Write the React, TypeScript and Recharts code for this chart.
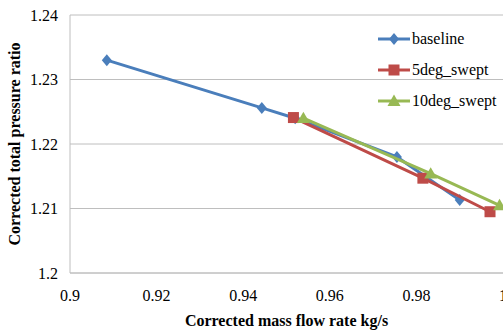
import React from 'react';
import {
    ScatterChart,
    Scatter,
    XAxis,
    YAxis,
    CartesianGrid,
    Legend
} from 'recharts';

// values
const BASELINE_X = [0.9085, 0.9443, 0.9520, 0.9755, 0.9900];
const BASELINE_Y = [1.2330, 1.2256, 1.2240, 1.2180, 1.2113];

const SWEPT5_X = [0.9516, 0.9815, 0.9970];
const SWEPT5_Y = [1.2241, 1.2147, 1.2095];

const SWEPT10_X = [0.9539, 0.9833, 0.9992];
const SWEPT10_Y = [1.2240, 1.2154, 1.2105];

const X_TICKS = [0.9, 0.92, 0.94, 0.96, 0.98, 1];
const Y_TICKS = [1.2, 1.21, 1.22, 1.23, 1.24];

const SERIES = [
    { name: 'baseline', xs: BASELINE_X, ys: BASELINE_Y, color: '#4A7EBB', marker: 'diamond' },
    { name: '5deg_swept', xs: SWEPT5_X, ys: SWEPT5_Y, color: '#BE4B48', marker: 'square' },
    { name: '10deg_swept', xs: SWEPT10_X, ys: SWEPT10_Y, color: '#98B954', marker: 'triangle' }
];

const FONT = '"Liberation Serif", "DejaVu Serif", serif';
const GRID = '#BEBEBE';

const toPoints = (xs: number[], ys: number[]) => xs.map((x, i) => ({ x, y: ys[i] }));

const Marker = ({ kind, cx, cy, color }: { kind: string; cx: number; cy: number; color: string }) => {
    if (kind === 'diamond') {
        const r = 6;
        return <polygon points={`${cx},${cy - r} ${cx + r - 1},${cy} ${cx},${cy + r} ${cx - r + 1},${cy}`} fill={color} />;
    }
    if (kind === 'square') {
        const r = 5.5;
        return <rect x={cx - r} y={cy - r} width={r * 2} height={r * 2} fill={color} />;
    }
    const r = 6.5;
    return <polygon points={`${cx},${cy - r} ${cx + r},${cy + r * 0.75} ${cx - r},${cy + r * 0.75}`} fill={color} />;
};

const LegendContent = () => (
    <div style={{ fontFamily: FONT, fontSize: 16, color: '#000' }}>
        {SERIES.map(s => (
            <div key={s.name} style={{ display: 'flex', alignItems: 'center', height: 31 }}>
                <svg width={34} height={14} style={{ marginRight: 1 }}>
                    <line x1={1} y1={7} x2={33} y2={7} stroke={s.color} strokeWidth={3} />
                    <Marker kind={s.marker} cx={17} cy={7} color={s.color} />
                </svg>
                <span>{s.name}</span>
            </div>
        ))}
    </div>
);

const App: React.FC = () => {
    return (
        <div style={{ position: 'fixed', left: 0, top: 0, width: 503, height: 330, overflow: 'hidden', background: '#fff' }}>
            <ScatterChart
                width={520}
                height={330}
                margin={{ top: 15, right: 17, bottom: 0, left: 0 }}
                style={{ fontFamily: FONT }}
            >
                <CartesianGrid vertical={false} stroke={GRID} strokeWidth={1} />
                <XAxis
                    type="number"
                    dataKey="x"
                    domain={[0.9, 1]}
                    ticks={X_TICKS}
                    interval={0}
                    height={57}
                    tickLine={false}
                    tickSize={0}
                    tickMargin={17}
                    stroke={GRID}
                    tick={{ fill: '#000', fontSize: 16, fontFamily: FONT }}
                    tickFormatter={(v: number) => String(+v.toFixed(2))}
                    label={{
                        value: 'Corrected mass flow rate kg/s',
                        position: 'insideBottom',
                        offset: 4,
                        style: { fill: '#000', fontSize: 16, fontWeight: 'bold', fontFamily: FONT }
                    }}
                />
                <YAxis
                    type="number"
                    dataKey="y"
                    domain={[1.2, 1.24]}
                    ticks={Y_TICKS}
                    interval={0}
                    width={70}
                    tickLine={false}
                    tickSize={0}
                    tickMargin={12}
                    stroke={GRID}
                    tick={{ fill: '#000', fontSize: 16, fontFamily: FONT }}
                    tickFormatter={(v: number) => String(+v.toFixed(2))}
                    label={{
                        value: 'Corrected total pressure ratio',
                        angle: -90,
                        position: 'insideLeft',
                        offset: 14,
                        style: { textAnchor: 'middle', fill: '#000', fontSize: 16, fontWeight: 'bold', fontFamily: FONT }
                    }}
                />
                <Legend
                    layout="vertical"
                    align="center"
                    verticalAlign="middle"
                    wrapperStyle={{ left: 377, top: 23, width: 130 }}
                    content={<LegendContent />}
                />
                {SERIES.map(s => (
                    <Scatter
                        key={s.name}
                        name={s.name}
                        data={toPoints(s.xs, s.ys)}
                        fill={s.color}
                        line={{ stroke: s.color, strokeWidth: 3 }}
                        lineType="joint"
                        isAnimationActive={false}
                        shape={(p: any) => <Marker kind={s.marker} cx={p.cx} cy={p.cy} color={s.color} />}
                    />
                ))}
            </ScatterChart>
        </div>
    );
};

export default App;
